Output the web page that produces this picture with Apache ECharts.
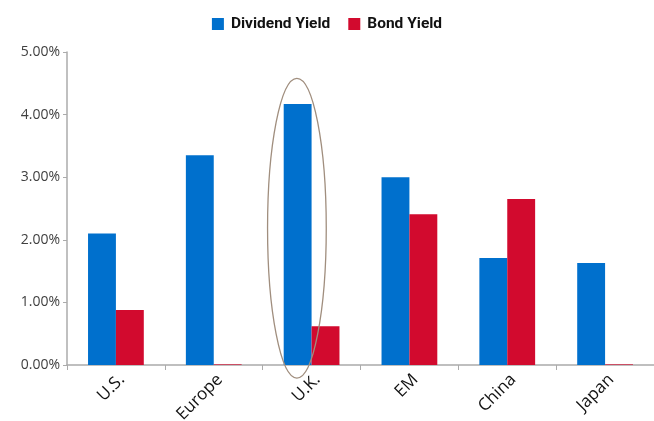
<!DOCTYPE html>
<html>
<head>
<meta charset="utf-8">
<script src="https://cdn.jsdelivr.net/npm/echarts@6/dist/echarts.min.js"></script>
<style>
  html, body { margin: 0; padding: 0; background: #fff; }
  #chart { width: 654px; height: 421px; }
</style>
</head>
<body>
<div id="chart"></div>
<script>
const categories = ['U.S.', 'Europe', 'U.K.', 'EM', 'China', 'Japan']
const dividendYield = [2.1, 3.35, 4.17, 3.0, 1.71, 1.63]
const bondYield = [0.88, 0.01, 0.62, 2.41, 2.65, 0.01]
const yTicks = [0, 1, 2, 3, 4, 5]

// highlighted category and the value range the ring spans
const ringCategory = 'U.K.'
const ringRange = [-0.21, 4.58]

const font = '"Open Sans", "DejaVu Sans", sans-serif'

const chart = echarts.init(document.getElementById('chart'))

chart.setOption({
  animation: false,
  color: ['#0070CD', '#D20A2E'],
  legend: {
    top: 11,
    left: 'center',
    itemWidth: 12,
    itemHeight: 12,
    itemGap: 18,
    icon: 'rect',
    textStyle: { fontFamily: 'Roboto, "Open Sans", sans-serif', fontWeight: 'bold', fontSize: 15.5, color: '#111', padding: [0, 0, 0, 2] }
  },
  grid: { left: 67, right: 0, top: 52, bottom: 56, outerBoundsMode: 'none', containLabel: false },
  xAxis: {
    type: 'category',
    data: categories,
    axisLine: { lineStyle: { color: '#ABABAB', width: 1.5 } },
    axisTick: { show: true, length: 5, lineStyle: { color: '#ABABAB' } },
    axisLabel: { rotate: 45, margin: 6, verticalAlign: 'top', fontFamily: font, fontSize: 17, color: '#111' }
  },
  yAxis: {
    type: 'value',
    min: yTicks[0],
    max: yTicks[yTicks.length - 1],
    interval: 1,
    axisLine: { show: true, lineStyle: { color: '#ABABAB', width: 1.5 } },
    axisTick: { show: true, length: 4, lineStyle: { color: '#ABABAB' } },
    splitLine: { show: false },
    axisLabel: {
      margin: 7,
      fontFamily: font,
      fontSize: 14,
      color: '#404040',
      formatter: (v) => v.toFixed(2) + '%'
    }
  },
  series: [
    { name: 'Dividend Yield', type: 'bar', data: dividendYield, barGap: '0%', barCategoryGap: '43%' },
    { name: 'Bond Yield', type: 'bar', data: bondYield, barGap: '0%', barCategoryGap: '43%' }
  ]
})

// draw the ring round the highlighted category (centred on its dividend bar)
const ringTop = chart.convertToPixel({ gridIndex: 0 }, [ringCategory, ringRange[1]])
const ringBottom = chart.convertToPixel({ gridIndex: 0 }, [ringCategory, ringRange[0]])
const bandWidth = chart.convertToPixel({ xAxisIndex: 0 }, categories[1]) - chart.convertToPixel({ xAxisIndex: 0 }, categories[0])

chart.setOption({
  graphic: [{
    type: 'ellipse',
    silent: true,
    z: 100,
    shape: {
      cx: ringTop[0] - bandWidth * 0.15,
      cy: (ringTop[1] + ringBottom[1]) / 2,
      rx: bandWidth * 0.3,
      ry: (ringBottom[1] - ringTop[1]) / 2
    },
    style: { fill: 'none', stroke: '#A08E7E', lineWidth: 1.3 }
  }]
})
</script>
</body>
</html>
